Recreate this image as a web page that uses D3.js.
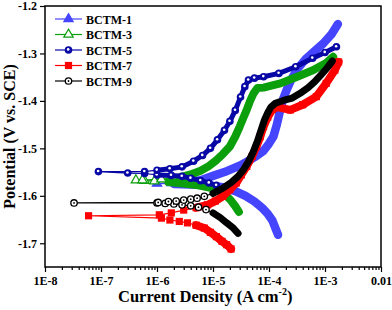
<!DOCTYPE html>
<html>
<head>
<meta charset="utf-8">
<script src="https://cdn.jsdelivr.net/npm/d3@7"></script>
<style>
  html, body { margin: 0; padding: 0; background: #fff; }
  svg text { font-family: "Liberation Serif", "Times New Roman", serif; font-weight: bold; fill: #000; }
</style>
</head>
<body>
<div id="chart"></div>
<script>
// Tafel curves: [current density (A cm-2), potential (V vs. SCE)], cathodic end -> Ecorr -> anodic end
const seriesNames = ['BCTM-1', 'BCTM-3', 'BCTM-5', 'BCTM-7', 'BCTM-9'];

const bctm1 = [
  [1.45e-4, -1.682], [1.3e-4, -1.668], [1.15e-4, -1.652], [9.5e-5, -1.638], [7.5e-5, -1.625],
  [5.5e-5, -1.612], [3.8e-5, -1.600], [2.5e-5, -1.590], [1.5e-5, -1.582], [8e-6, -1.578],
  [4e-6, -1.576], [2e-6, -1.575], [1.0e-6, -1.574],
  [1.8e-6, -1.573], [3.5e-6, -1.571], [6e-6, -1.567], [1e-5, -1.558], [1.6e-5, -1.550],
  [2.3e-5, -1.542], [3.2e-5, -1.535], [4.5e-5, -1.525], [6e-5, -1.516], [8e-5, -1.505],
  [1.0e-4, -1.490], [1.2e-4, -1.475], [1.38e-4, -1.450], [1.58e-4, -1.420], [1.8e-4, -1.395],
  [2.1e-4, -1.375], [2.5e-4, -1.355], [3.2e-4, -1.333], [4.5e-4, -1.312], [6.5e-4, -1.295],
  [9.3e-4, -1.279], [1.3e-3, -1.260], [1.7e-3, -1.238]
];

const bctm3 = [
  [2.9e-5, -1.634], [2.5e-5, -1.622], [2.1e-5, -1.610], [1.7e-5, -1.599], [1.3e-5, -1.590],
  [9e-6, -1.583], [5.5e-6, -1.578], [3e-6, -1.574], [1.6e-6, -1.571], [9e-7, -1.569],
  [6e-7, -1.568], [4.2e-7, -1.567],
  [5.5e-7, -1.567], [1.2e-6, -1.565], [2.5e-6, -1.561], [4e-6, -1.555], [6e-6, -1.547],
  [8.5e-6, -1.537], [1.15e-5, -1.525], [1.5e-5, -1.512], [2e-5, -1.496], [2.5e-5, -1.475],
  [3e-5, -1.454], [3.5e-5, -1.435], [4e-5, -1.419], [4.6e-5, -1.400], [5.3e-5, -1.384],
  [6.2e-5, -1.373], [8e-5, -1.372], [1.1e-4, -1.368], [1.6e-4, -1.363], [3.2e-4, -1.349],
  [6.2e-4, -1.335], [1.05e-3, -1.320], [1.4e-3, -1.307]
];

const bctm5 = [
  [1.15e-5, -1.578], [8.5e-6, -1.573], [6e-6, -1.568], [4e-6, -1.563], [2.8e-6, -1.559],
  [1.8e-6, -1.557], [1.0e-6, -1.556], [6e-7, -1.553], [3e-7, -1.552], [9e-8, -1.549],
  [6e-7, -1.549], [1e-6, -1.546], [1.7e-6, -1.543], [2.8e-6, -1.539], [4.5e-6, -1.527],
  [6.5e-6, -1.515], [9e-6, -1.500], [1.2e-5, -1.482], [1.6e-5, -1.462], [2e-5, -1.443],
  [2.5e-5, -1.420], [3.1e-5, -1.392], [3.7e-5, -1.370], [4.3e-5, -1.356], [5.5e-5, -1.352],
  [8e-5, -1.349], [1.5e-4, -1.342], [3e-4, -1.328], [6e-4, -1.310], [1e-3, -1.298],
  [1.6e-3, -1.286]
];

const bctm7 = [
  [2.1e-5, -1.712], [1.75e-5, -1.703], [1.45e-5, -1.696], [1.15e-5, -1.686], [9e-6, -1.677],
  [7e-6, -1.668], [5e-6, -1.662], [3.5e-6, -1.657], [2.5e-6, -1.654], [1.7e-6, -1.651],
  [1.2e-6, -1.647], [6e-8, -1.642],
  [1.1e-6, -1.640], [1.8e-6, -1.636], [3e-6, -1.630], [5e-6, -1.625], [8e-6, -1.619],
  [1.1e-5, -1.611], [1.5e-5, -1.601], [2e-5, -1.587], [2.6e-5, -1.573], [3.2e-5, -1.556],
  [4e-5, -1.538], [5e-5, -1.517], [6e-5, -1.496], [7e-5, -1.475], [8e-5, -1.454],
  [9.5e-5, -1.434], [1.15e-4, -1.418], [1.4e-4, -1.413], [2.4e-4, -1.419], [4e-4, -1.408],
  [7e-4, -1.391], [1.05e-3, -1.363], [1.5e-3, -1.335], [1.75e-3, -1.318]
];

const bctm9 = [
  [2.8e-5, -1.679], [2.3e-5, -1.668], [1.75e-5, -1.657], [1.35e-5, -1.646], [1e-5, -1.636],
  [7.5e-6, -1.629], [5.5e-6, -1.624], [4e-6, -1.621], [2.8e-6, -1.619], [2e-6, -1.617],
  [1.4e-6, -1.616], [1e-6, -1.615], [3.3e-8, -1.615],
  [1.05e-6, -1.614], [1.6e-6, -1.612], [2.2e-6, -1.611], [3e-6, -1.609], [4e-6, -1.607],
  [5.2e-6, -1.605], [7e-6, -1.601], [1e-5, -1.595], [1.5e-5, -1.584], [2.1e-5, -1.572],
  [2.8e-5, -1.559], [3.5e-5, -1.545], [4.3e-5, -1.528], [5.2e-5, -1.508], [6.2e-5, -1.485],
  [7.2e-5, -1.462], [8.3e-5, -1.440], [9.5e-5, -1.425], [1.08e-4, -1.413], [1.3e-4, -1.405],
  [1.8e-4, -1.399], [2.6e-4, -1.394], [3.6e-4, -1.384], [5e-4, -1.372], [6.5e-4, -1.360],
  [8.5e-4, -1.345], [1.1e-3, -1.330], [1.35e-3, -1.316]
];

const xTicks = [1e-8, 1e-7, 1e-6, 1e-5, 1e-4, 1e-3, 1e-2];
const xTickLabels = ['1E-8', '1E-7', '1E-6', '1E-5', '1E-4', '1E-3', '0.01'];
const yTicks = [-1.7, -1.6, -1.5, -1.4, -1.3, -1.2];
const yTickLabels = ['-1.7', '-1.6', '-1.5', '-1.4', '-1.3', '-1.2'];

// look of each series (dense stretches of the original markers drawn as a band)
const styles = [
  { color: '#4545ff', marker: 'triangle', hollow: false, bandFrom: 2e-6, bandWidth: 8.5, bandMarkers: false },
  { color: '#0c9f0c', marker: 'triangle', hollow: true, bandFrom: 1.5e-6, bandWidth: 8, bandMarkers: false },
  { color: '#0808a6', marker: 'sphere', hollow: false, bandFrom: 1e-6, bandWidth: 5, bandMarkers: true },
  { color: '#ff0000', marker: 'square', hollow: false, bandFrom: 4e-6, bandWidth: 8, bandMarkers: true },
  { color: '#000000', marker: 'ring', hollow: true, bandFrom: 9e-6, bandWidth: 7, bandMarkers: false }
];
const allData = [bctm1, bctm3, bctm5, bctm7, bctm9];

const W = 392, H = 310;
const margin = { left: 45, right: 381, top: 6, bottom: 267 };

const svg = d3.select('#chart').append('svg')
  .attr('width', W).attr('height', H);

const x = d3.scaleLog().domain([1e-8, 1e-2]).range([margin.left, margin.right]);
const y = d3.scaleLinear().domain([-1.75, -1.2]).range([margin.bottom, margin.top]);

svg.append('defs').append('clipPath').attr('id', 'plot')
  .append('rect').attr('x', margin.left).attr('y', margin.top)
  .attr('width', margin.right - margin.left).attr('height', margin.bottom - margin.top);

function drawMarker(g, type, st, cx, cy) {
  if (type === 'triangle') {
    g.append('path')
      .attr('d', d3.symbol().type(d3.symbolTriangle).size(38)())
      .attr('transform', 'translate(' + cx + ',' + cy + ')')
      .attr('fill', st.hollow ? '#fff' : st.color)
      .attr('stroke', st.color).attr('stroke-width', 1.2);
  } else if (type === 'square') {
    g.append('rect').attr('x', cx - 3.6).attr('y', cy - 3.6).attr('width', 7.2).attr('height', 7.2)
      .attr('fill', st.color);
  } else if (type === 'sphere') {
    g.append('circle').attr('cx', cx).attr('cy', cy).attr('r', 3.8).attr('fill', st.color);
    g.append('circle').attr('cx', cx - 0.3).attr('cy', cy - 0.6).attr('r', 1.3).attr('fill', '#fff');
  } else if (type === 'ring') {
    g.append('circle').attr('cx', cx).attr('cy', cy).attr('r', 3.2)
      .attr('fill', '#fff').attr('stroke', st.color).attr('stroke-width', 1.3);
    g.append('circle').attr('cx', cx).attr('cy', cy).attr('r', 0.9).attr('fill', st.color);
  }
}

const plot = svg.append('g').attr('clip-path', 'url(#plot)');

allData.forEach((data, i) => {
  const st = styles[i];
  const g = plot.append('g');
  const line = d3.line().x(d => x(d[0])).y(d => y(d[1]));
  g.append('path').attr('d', line(data))
    .attr('fill', 'none').attr('stroke', st.color).attr('stroke-width', 1.2);
  const band = d3.line().defined(d => d[0] >= st.bandFrom).x(d => x(d[0])).y(d => y(d[1]));
  g.append('path').attr('d', band(data))
    .attr('fill', 'none').attr('stroke', st.color).attr('stroke-width', st.bandWidth)
    .attr('stroke-linecap', 'round').attr('stroke-linejoin', 'round');
  data.forEach(d => {
    if (d[0] >= st.bandFrom && !st.bandMarkers) return;
    drawMarker(g, st.marker, st, x(d[0]), y(d[1]));
  });
});

// frame
svg.append('rect').attr('x', margin.left).attr('y', margin.top)
  .attr('width', margin.right - margin.left).attr('height', margin.bottom - margin.top)
  .attr('fill', 'none').attr('stroke', '#000').attr('stroke-width', 1.5);

// x axis
const minor = [];
for (let e = -8; e < -2; e++) for (let k = 2; k <= 9; k++) minor.push(k * Math.pow(10, e));

const xMinor = svg.append('g').attr('transform', 'translate(0,' + margin.bottom + ')')
  .call(d3.axisBottom(x).tickValues(minor).tickSize(3).tickFormat(''));
xMinor.select('.domain').remove();

const xAxis = svg.append('g').attr('transform', 'translate(0,' + margin.bottom + ')')
  .call(d3.axisBottom(x).tickValues(xTicks).tickSize(5).tickPadding(4)
    .tickFormat((d, i) => xTickLabels[i]));
xAxis.select('.domain').remove();

const yAxis = svg.append('g').attr('transform', 'translate(' + margin.left + ',0)')
  .call(d3.axisLeft(y).tickValues(yTicks).tickSize(5).tickPadding(3)
    .tickFormat((d, i) => yTickLabels[i]));
yAxis.select('.domain').remove();

svg.selectAll('.tick line').attr('stroke', '#000').attr('stroke-width', 1.2);
svg.selectAll('.tick text').style('font-size', '12px').style('font-family', '"Liberation Serif", serif').style('font-weight', 'bold');

// axis titles
const xt = svg.append('text').attr('x', 118).attr('y', 302).style('font-size', '16.5px');
xt.append('tspan').text('Current Density (A cm');
xt.append('tspan').attr('dy', -7).style('font-size', '10px').text('-2');
xt.append('tspan').attr('dy', 7).text(')');

svg.append('text')
  .attr('transform', 'translate(15,' + ((margin.top + margin.bottom) / 2) + ') rotate(-90)')
  .attr('text-anchor', 'middle').style('font-size', '16px')
  .text('Potential (V vs. SCE)');

// legend
const legend = svg.append('g');
seriesNames.forEach((name, i) => {
  const st = styles[i];
  const ly = 19 + i * 15.5;
  legend.append('line').attr('x1', 55).attr('x2', 82).attr('y1', ly).attr('y2', ly)
    .attr('stroke', st.color).attr('stroke-width', 1.2);
  drawMarker(legend, st.marker, st, 68.5, ly);
  legend.append('text').attr('x', 86).attr('y', ly + 4.5).style('font-size', '12px').text(name);
});
</script>
</body>
</html>
